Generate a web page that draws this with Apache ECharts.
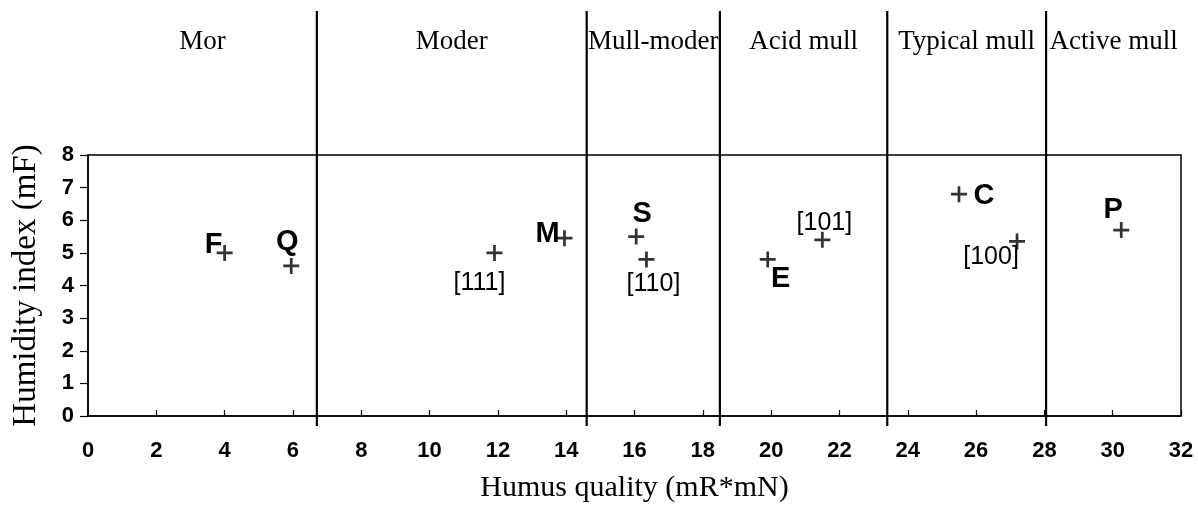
<!DOCTYPE html>
<html>
<head>
<meta charset="utf-8">
<script src="https://cdn.jsdelivr.net/npm/echarts@6/dist/echarts.min.js"></script>
<style>
html,body{margin:0;padding:0;background:#fff;}
#chart{width:1198px;height:508px;}
</style>
</head>
<body>
<div id="chart"></div>
<script>
// ---- data ----
const sampleNames   = ['F', 'Q', '[111]', 'M', 'S', '[110]', 'E', '[101]', 'C', '[100]', 'P'];
const humusQuality  = [4.0, 5.95, 11.9, 13.95, 16.05, 16.35, 19.9, 21.5, 25.5, 27.2, 30.25];
const humidityIndex = [5.0, 4.6, 5.0, 5.45, 5.5, 4.8, 4.8, 5.4, 6.8, 5.35, 5.7];
const zoneNames  = ['Mor', 'Moder', 'Mull-moder', 'Acid mull', 'Typical mull', 'Active mull'];
const zoneBounds = [0, 6.7, 14.6, 18.5, 23.4, 28.05, 32];
const xTickRange = [0, 32, 2];
const yTickRange = [0, 8, 1];

// ---- layout (label placement relative to marker) ----
const labelOffsets = {
  'F': [-11, -8], 'Q': [-4, -24], '[111]': [-15, 30], 'M': [-17, -4], 'S': [6, -23],
  '[110]': [7, 25], 'E': [13, 20], '[101]': [2, -17], 'C': [25, 2], '[100]': [-26, 16], 'P': [-8, -20]
};

const serif = '"Liberation Serif", "Times New Roman", serif';
const sans = '"Liberation Sans", Arial, sans-serif';

const points = sampleNames.map((n, i) => {
  const isLetter = !n.startsWith('[');
  return {
    value: [humusQuality[i], humidityIndex[i]],
    label: {
      show: true,
      formatter: n,
      position: 'inside',
      offset: labelOffsets[n],
      align: 'center',
      verticalAlign: 'middle',
      color: '#000',
      opacity: 1,
      textBorderWidth: 0,
      fontFamily: sans,
      fontWeight: isLetter ? 'bold' : 'normal',
      fontSize: isLetter ? 29 : 25
    }
  };
});

const dividers = zoneBounds.slice(1, -1).map(x => [x, 0]);
const zoneCenters = zoneNames.map((n, i) => [(zoneBounds[i] + zoneBounds[i + 1]) / 2, 8]);

const chart = echarts.init(document.getElementById('chart'));
chart.setOption({
  animation: false,
  backgroundColor: '#fff',
  grid: {
    left: 88, right: 17, top: 155, bottom: 91,
    show: true, borderColor: '#000', borderWidth: 1.5, backgroundColor: 'transparent'
  },
  xAxis: {
    type: 'value', min: xTickRange[0], max: xTickRange[1], interval: xTickRange[2],
    name: 'Humus quality (mR*mN)', nameLocation: 'middle', nameGap: 57,
    nameTextStyle: { fontFamily: serif, fontSize: 30, color: '#000' },
    axisLine: { show: true, lineStyle: { color: '#000', width: 1.5 } },
    axisTick: { show: true, inside: true, length: 6, lineStyle: { color: '#000', width: 1.2 } },
    axisLabel: { fontFamily: sans, fontWeight: 'bold', fontSize: 22, color: '#000', margin: 24 },
    splitLine: { show: false }
  },
  yAxis: {
    type: 'value', min: yTickRange[0], max: yTickRange[1], interval: yTickRange[2],
    name: 'Humidity index (mF)', nameLocation: 'middle', nameGap: 45,
    nameTextStyle: { fontFamily: serif, fontSize: 33, color: '#000' },
    axisLine: { show: true, lineStyle: { color: '#000', width: 1.5 } },
    axisTick: { show: true, inside: false, length: 8, lineStyle: { color: '#000', width: 1.2 } },
    axisLabel: { fontFamily: sans, fontWeight: 'bold', fontSize: 22, color: '#000', margin: 14 },
    splitLine: { show: false }
  },
  series: [
    {
      type: 'custom',
      clip: false,
      silent: true,
      data: dividers,
      renderItem: function (params, api) {
        const x = api.value(0);
        const top = api.coord([x, yTickRange[1]]);
        const bot = api.coord([x, yTickRange[0]]);
        return {
          type: 'line',
          shape: { x1: top[0], y1: 11, x2: bot[0], y2: bot[1] + 10 },
          style: { stroke: '#000', lineWidth: 2.2 }
        };
      },
      z: 5
    },
    {
      type: 'custom',
      clip: false,
      silent: true,
      data: zoneCenters,
      renderItem: function (params, api) {
        const p = api.coord([api.value(0), api.value(1)]);
        return {
          type: 'text',
          x: p[0], y: 42,
          style: {
            text: zoneNames[params.dataIndex],
            fill: '#000',
            font: '27px ' + serif,
            textAlign: 'center',
            textVerticalAlign: 'middle'
          }
        };
      },
      z: 5
    },
    {
      type: 'scatter',
      symbol: 'path://M4.15,0H5.85V10H4.15ZM0,4.15H10V5.85H0Z',
      symbolSize: 16,
      itemStyle: { color: '#000' },
      data: points,
      z: 10
    }
  ]
});
</script>
</body>
</html>
